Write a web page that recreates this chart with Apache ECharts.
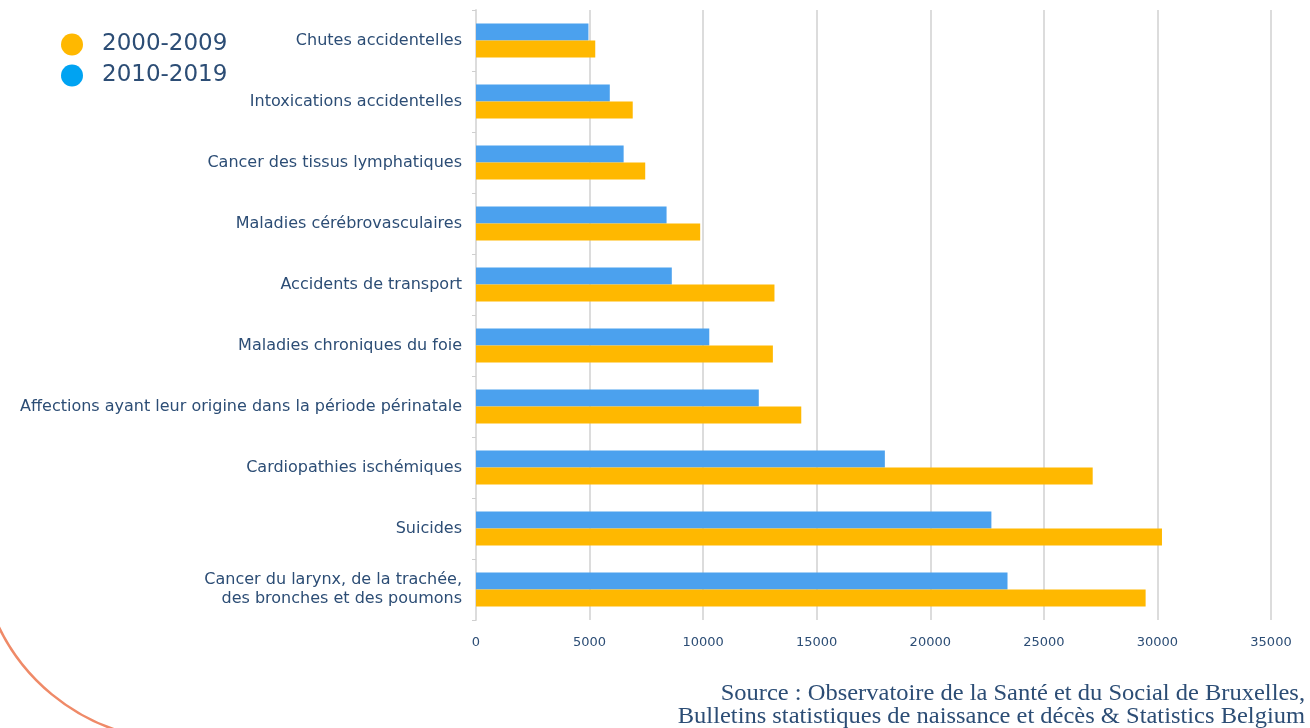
<!DOCTYPE html>
<html>
<head>
<meta charset="utf-8">
<script src="https://cdn.jsdelivr.net/npm/echarts@6/dist/echarts.min.js"></script>
<style>
  html, body { margin: 0; padding: 0; background: #fff; }
  #chart { width: 1310px; height: 728px; }
</style>
</head>
<body>
<div id="chart"></div>
<script>
// Categories, top to bottom
const categories = [
    "Chutes accidentelles",
    "Intoxications accidentelles",
    "Cancer des tissus lymphatiques",
    "Maladies cérébrovasculaires",
    "Accidents de transport",
    "Maladies chroniques du foie",
    "Affections ayant leur origine dans la période périnatale",
    "Cardiopathies ischémiques",
    "Suicides",
    "Cancer du larynx, de la trachée,\ndes bronches et des poumons",
];

const values2000 = [5250, 6900, 7450, 9870, 13140, 13070, 14320, 27150, 30200, 29480];
const values2010 = [4950, 5890, 6500, 8390, 8620, 10270, 12450, 18000, 22690, 23400];

const xTicks = { min: 0, max: 35000, interval: 5000 };

const textColor = "#2c4d75";
const orange = "#FFB800";
const blue = "#4BA1EE";
const font = "DejaVu Sans";

const chart = echarts.init(document.getElementById("chart"));

chart.setOption({
    animation: false,
    textStyle: { fontFamily: font },
    grid: { left: 476, right: 39, top: 10, bottom: 108, containLabel: false },
    legend: {
        left: 56,
        top: 28,
        orient: "vertical",
        itemGap: 8,
        icon: "circle",
        itemWidth: 22,
        itemHeight: 22,
        textStyle: { color: textColor, fontSize: 23, fontFamily: font, padding: [0, 0, 0, 14] },
        data: [
            { name: "2000-2009", itemStyle: { color: orange } },
            { name: "2010-2019", itemStyle: { color: "#00A3F2" } },
        ],
    },
    xAxis: {
        type: "value",
        min: xTicks.min,
        max: xTicks.max,
        interval: xTicks.interval,
        axisLine: { show: false },
        axisTick: { show: false },
        axisLabel: { color: textColor, fontSize: 13, margin: 16, formatter: (v) => String(v) },
        splitLine: { lineStyle: { color: "#dcdcdc", width: 2 } },
    },
    yAxis: {
        type: "category",
        inverse: true,
        data: categories,
        axisLine: { lineStyle: { color: "#dcdcdc", width: 2 } },
        axisTick: { show: true, length: 4, lineStyle: { color: "#cfcfcf" } },
        axisLabel: { color: textColor, fontSize: 16, margin: 14, lineHeight: 19 },
    },
    series: [
        {
            name: "2010-2019",
            type: "bar",
            data: values2010,
            itemStyle: { color: blue },
            barWidth: 17,
            barGap: "0%",
        },
        {
            name: "2000-2009",
            type: "bar",
            data: values2000,
            itemStyle: { color: orange },
            barWidth: 17,
            barGap: "0%",
        },
    ],
    graphic: [
        {
            // decorative arc in the lower-left corner
            type: "arc",
            shape: { cx: 179, cy: 540, r: 200, startAngle: 1.72, endAngle: 2.8, clockwise: true },
            style: { stroke: "#EF8A68", lineWidth: 2.5, fill: null },
            silent: true,
        },
        {
            type: "text",
            x: 1305,
            y: 682,
            scaleX: 1.065,
            style: {
                text: "Source : Observatoire de la Santé et du Social de Bruxelles,\nBulletins statistiques de naissance et décès & Statistics Belgium",
                fill: textColor,
                font: "23px 'Liberation Serif'",
                align: "right",
                lineHeight: 23,
            },
        },
    ],
});
</script>
</body>
</html>
